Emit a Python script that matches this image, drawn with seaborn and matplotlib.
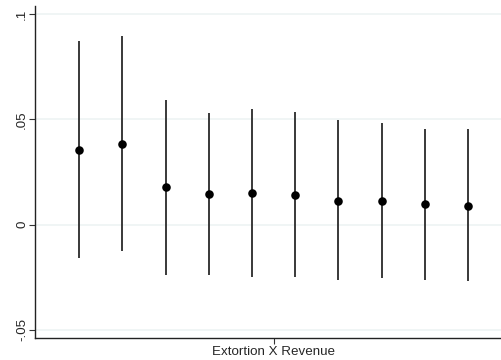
import matplotlib
matplotlib.use("Agg")
import matplotlib.pyplot as plt
import seaborn as sns
import pandas as pd

# Coefficient estimates and 95% confidence bounds
spec = list(range(1, 11))
coef = [0.0356, 0.0385, 0.0177, 0.0147, 0.0149, 0.0142, 0.0113, 0.0113, 0.0096, 0.0090]
ci_low = [-0.0161, -0.0125, -0.0239, -0.0239, -0.0252, -0.0252, -0.0266, -0.0256, -0.0263, -0.0271]
ci_high = [0.0874, 0.0898, 0.0593, 0.0531, 0.0551, 0.0536, 0.0498, 0.0483, 0.0456, 0.0455]
y_ticks = [-0.05, 0, 0.05, 0.1]
y_labels = ["-.05", "0", ".05", ".1"]
x_label = "Extortion X Revenue"

df = pd.DataFrame({"spec": spec, "coef": coef, "lo": ci_low, "hi": ci_high})

sns.set_style("white")
plt.rcParams["font.family"] = ["Liberation Sans", "DejaVu Sans"]

fig = plt.figure(figsize=(5.01, 3.60), dpi=100)
ax = fig.add_axes([35 / 501, 1 - 338 / 360, 466 / 501, 332 / 360])

for y in y_ticks:
    ax.axhline(y, color="#eef4f4", lw=1.2, zorder=0)

ax.vlines(df["spec"], df["lo"], df["hi"], color="#2a2a2a", lw=1.3, zorder=2)
sns.scatterplot(data=df, x="spec", y="coef", color="black", s=38,
                edgecolor="black", linewidth=0, ax=ax, zorder=3)

ax.set_xlim(-0.02, 10.76)
ax.set_ylim(-0.054, 0.104)
ax.set_yticks(y_ticks)
ax.set_yticklabels(y_labels, rotation=90, va="center", fontsize=9.6)
ax.set_xticks([5.5])
ax.set_xticklabels([x_label], fontsize=9.6)
ax.set_xlabel("")
ax.set_ylabel("")
ax.tick_params(axis="both", length=4, width=0.8, color="#333333", direction="out")
ax.tick_params(axis="x", bottom=True, pad=1.5)
ax.tick_params(axis="y", left=True, pad=1)

for side in ["top", "right"]:
    ax.spines[side].set_visible(False)
for side in ["left", "bottom"]:
    ax.spines[side].set_color("#222222")
    ax.spines[side].set_linewidth(1.0)

fig.savefig("out.png", dpi=100, facecolor="white")
